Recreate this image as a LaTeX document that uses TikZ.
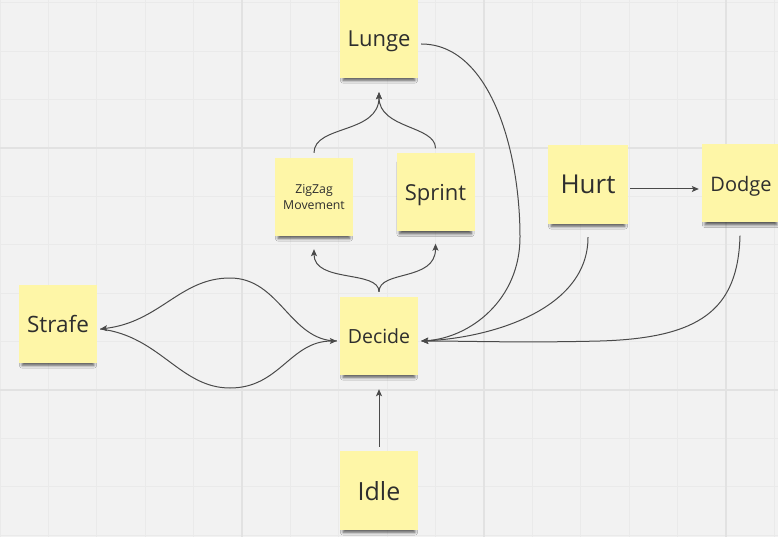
\documentclass[tikz,border=0pt]{standalone}
\usepackage{fontspec}
\setmainfont{Open Sans}
\usetikzlibrary{arrows.meta,calc,shadows.blur}
\definecolor{bgc}{HTML}{F2F2F2}
\definecolor{gridminor}{HTML}{EAEAEA}
\definecolor{gridmajor}{HTML}{E2E2E2}
\definecolor{notey}{HTML}{FEF6A7}
\definecolor{linec}{HTML}{4A4A4A}
\definecolor{textc}{HTML}{2E2E2E}
\tikzset{
  note/.style={fill=notey, minimum width=78pt, minimum height=78pt, inner sep=0pt,
    text=textc, align=center,
    blur shadow={shadow xshift=0pt, shadow yshift=-6pt, shadow scale=0.92,
      shadow blur steps=6, shadow blur radius=3pt, shadow opacity=65}},
  oneline/.style={text depth=0pt},
  conn/.style={draw=linec, line width=1pt},
  arr/.style={conn, -{Stealth[length=7pt,width=6pt,inset=1.5pt]}},
}
\begin{document}
\begin{tikzpicture}[x=1pt,y=-1pt]
\fill[bgc] (0,0) rectangle (778,537);
\useasboundingbox (0,0) rectangle (778,537);
% grid
\foreach \k in {0,...,16} {\draw[gridminor, line width=1pt] ({48.4*\k},0) -- ({48.4*\k},537);}
\foreach \k in {0,...,11} {\draw[gridminor, line width=1pt] (0,{2.8+48.4*\k}) -- (778,{2.8+48.4*\k});}
\foreach \k in {1,2,3} {\draw[gridmajor, line width=1.5pt] ({242*\k},0) -- ({242*\k},537);}
\foreach \yy in {148,390} {\draw[gridmajor, line width=1.5pt] (0,\yy) -- (778,\yy);}

% notes
\node[note, oneline, font=\fontsize{22}{26}\selectfont] (lunge) at (379,39) {Lunge};
\node[note, font=\fontsize{12.3}{15.7}\selectfont] (zig) at (314,197) {ZigZag\\Movement};
\node[note, oneline, font=\fontsize{22}{26}\selectfont] (sprint) at (435.5,192.5) {Sprint};
\node[note, oneline, minimum width=80pt, minimum height=79pt, font=\fontsize{26}{30}\selectfont] (hurt) at (588,184.5) {Hurt};
\node[note, oneline, font=\fontsize{20}{24}\selectfont] (dodge) at (741,183.5) {Dodge};
\node[note, oneline, font=\fontsize{22.5}{26}\selectfont] (strafe) at (58,324) {Strafe};
\node[note, oneline, font=\fontsize{19.5}{24}\selectfont] (decide) at (379,336) {Decide};
\node[note, oneline, minimum height=79pt, font=\fontsize{25}{30}\selectfont] (idle) at (379,490.5) {Idle};

% anchor points
\coordinate (dTop) at ($(decide.north)+(0,-5)$);
\coordinate (dIn) at ($(decide.east)+(3,5)$);
\coordinate (dLeft) at ($(decide.west)+(-3,5)$);
\coordinate (sRight) at ($(strafe.east)+(3,5)$);
\coordinate (lBot) at ($(lunge.south)+(0,14)$);
\coordinate (lOut) at ($(lunge.east)+(3,5)$);
\coordinate (zTop) at ($(zig.north)+(0,-5)$);
\coordinate (zBot) at ($(zig.south)+(0,13)$);
\coordinate (spTop) at ($(sprint.north)+(0,-5)$);
\coordinate (spBot) at ($(sprint.south)+(0,12)$);
\coordinate (hOut) at ($(hurt.south)+(0,13)$);
\coordinate (doOut) at ($(dodge.south)+(-1,13)$);

% connectors
\draw[arr] ($(idle.north)+(0,-4)$) -- ($(decide.south)+(0,14)$);
\draw[arr] (dTop) .. controls ($(dTop)+(0,-22)$) and ($(zBot)+(0,34)$) .. (zBot);
\draw[arr] (dTop) .. controls ($(dTop)+(0,-22)$) and ($(spBot)+(0,38)$) .. (spBot);
\draw[arr] (zTop) .. controls ($(zTop)+(0,-28)$) and ($(lBot)+(0,42)$) .. (lBot);
\draw[arr] (spTop) .. controls ($(spTop)+(0,-23)$) and ($(lBot)+(0,37)$) .. (lBot);
\draw[arr] (dLeft) .. controls (290,341) and (280,278) .. (230,278) .. controls (180,278) and (160,322) .. (sRight);
\draw[arr] (sRight) .. controls (160,336) and (180,388) .. (230,388) .. controls (280,388) and (290,341) .. (dLeft);
\draw[arr] ($(hurt.east)+(2,4.5)$) -- ($(dodge.west)+(-3,5.5)$);
\draw[arr] (lOut) .. controls (490,44) and (520,150) .. (520,237) .. controls (520,300) and (470,338) .. (dIn);
\draw[arr] (hOut) .. controls (588,310) and (490,338) .. (dIn);
\draw[arr] (doOut) .. controls (738,310) and (700,338) .. (600,341) .. controls (520,343) and (470,341) .. (dIn);
\end{tikzpicture}
\end{document}
